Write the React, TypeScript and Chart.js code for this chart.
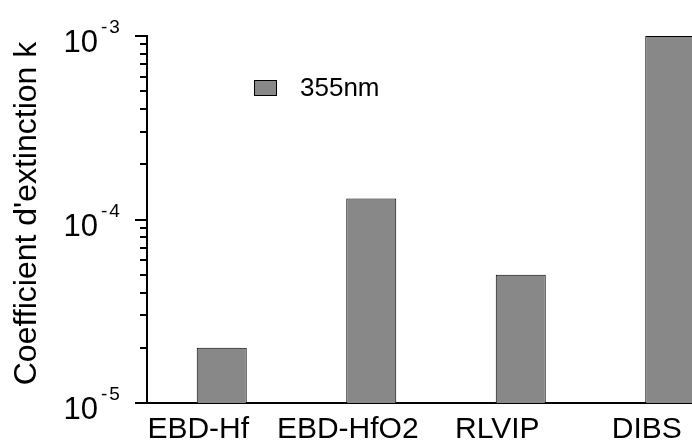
import React, { useEffect, useRef } from "react";
import { Chart, registerables } from "chart.js";

Chart.register(...registerables);

// ---- data ----
const categories = ["EBD-Hf", "EBD-HfO2", "RLVIP", "DIBS"];
const seriesLabel = "355nm";
const extinction355 = [2e-5, 1.3e-4, 5e-5, 1e-3];
const yDecades = [-5, -4, -3];
const yAxisTitle = "Coefficient d'extinction k";
const yMin = 1e-5;
const yMax = 1e-3;

const FONT = '"Liberation Sans", Arial, Helvetica, sans-serif';
const BAR_FILL = "#888888";

const decorPlugin = {
  id: "decor",
  afterDraw(chart: any) {
    const { ctx, chartArea } = chart;
    const ys = chart.scales.y;
    const left = chartArea.left;
    ctx.save();
    ctx.strokeStyle = "#000";
    ctx.fillStyle = "#000";
    ctx.lineWidth = 2;
    // log ticks (major + minor)
    for (const d of yDecades) {
      for (let m = 1; m <= 9; m++) {
        const v = m * Math.pow(10, d);
        if (v > yMax * 1.0001 || v < yMin * 0.9999) continue;
        const py = Math.round(ys.getPixelForValue(v));
        const len = m === 1 ? 12 : 7;
        ctx.beginPath();
        ctx.moveTo(left - len, py);
        ctx.lineTo(left, py);
        ctx.stroke();
      }
    }
    // tick labels 10^d
    ctx.textBaseline = "alphabetic";
    for (const d of yDecades) {
      const py = ys.getPixelForValue(Math.pow(10, d));
      const sup = String(d);
      ctx.font = `19px ${FONT}`;
      ctx.textAlign = "left";
      (ctx as any).letterSpacing = "2px";
      ctx.fillText(sup, left - 46, py - 3);
      (ctx as any).letterSpacing = "0px";
      ctx.font = `31px ${FONT}`;
      ctx.textAlign = "right";
      ctx.fillText("10", left - 49, py + 16);
    }
    // y axis title
    ctx.save();
    ctx.font = `32px ${FONT}`;
    ctx.textAlign = "center";
    ctx.translate(36, (chartArea.top + chartArea.bottom) / 2 - 6);
    ctx.rotate(-Math.PI / 2);
    ctx.fillText(yAxisTitle, 0, 0);
    ctx.restore();
    // legend
    const ds = chart.data.datasets[0];
    ctx.fillStyle = ds.backgroundColor;
    ctx.fillRect(254, 80, 23, 16);
    ctx.lineWidth = 1;
    ctx.strokeStyle = "#000";
    ctx.strokeRect(254.5, 80.5, 22, 15);
    ctx.fillStyle = "#000";
    ctx.textAlign = "left";
    ctx.font = `26px ${FONT}`;
    ctx.fillText(ds.label, 300, 96);
    ctx.restore();
  },
};

export default function App() {
  const ref = useRef<HTMLCanvasElement | null>(null);
  useEffect(() => {
    if (!ref.current) return;
    const chart = new Chart(ref.current, {
      type: "bar",
      data: {
        labels: categories,
        datasets: [
          {
            label: seriesLabel,
            data: extinction355,
            backgroundColor: BAR_FILL,
            borderColor: "#000",
            borderWidth: 1,
            barPercentage: 1,
            categoryPercentage: 0.3345,
          },
        ],
      },
      options: {
        responsive: false,
        animation: false,
        devicePixelRatio: 1,
        layout: { padding: { left: 0, top: 36, right: 15, bottom: 0 } },
        plugins: { legend: { display: false }, tooltip: { enabled: false } },
        scales: {
          x: {
            type: "category",
            offset: true,
            grid: { display: false, drawTicks: false },
            border: { display: true, color: "#000", width: 2 },
            ticks: {
              color: "#000",
              font: { family: FONT, size: 30 },
              padding: 9,
              labelOffset: -23.5,
              maxRotation: 0,
              autoSkip: false,
            },
            afterFit: (s: any) => {
              s.height = 38;
            },
          },
          y: {
            type: "logarithmic",
            min: yMin,
            max: yMax,
            grid: { display: false, drawTicks: false },
            border: { display: true, color: "#000", width: 2 },
            ticks: { display: false },
            afterFit: (s: any) => {
              s.width = 147;
            },
          },
        },
      },
      plugins: [decorPlugin],
    });
    return () => chart.destroy();
  }, []);
  return (
    <div
      style={{
        position: "fixed",
        left: 0,
        top: 0,
        width: 692,
        height: 441,
        overflow: "hidden",
        background: "#fff",
      }}
    >
      <canvas ref={ref} width={760} height={441} style={{ display: "block" }} />
    </div>
  );
}
